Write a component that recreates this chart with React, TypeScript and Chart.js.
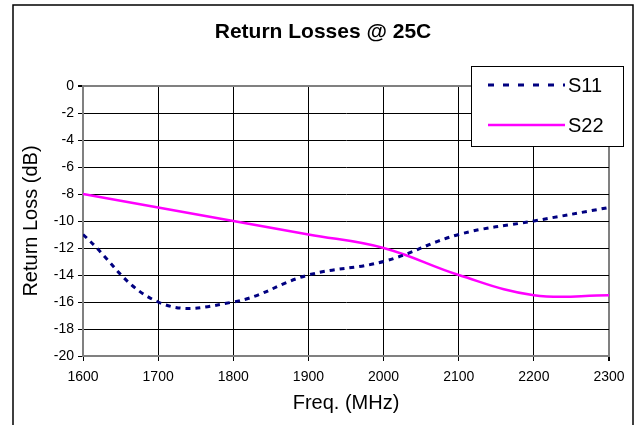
import React, { useEffect, useRef } from 'react';
import { Chart, registerables } from 'chart.js';

Chart.register(...registerables);

const freqMHz = [1600, 1700, 1800, 1900, 2000, 2100, 2200, 2300];
const s11 = [-11, -16, -16, -14, -13, -11, -10, -9];
const s22 = [-8, -9, -10, -11, -12, -14, -15.5, -15.5];
const seriesLabels = ['S11', 'S22'];
const titleText = 'Return Losses @ 25C';
const xTitle = 'Freq. (MHz)';
const yTitle = 'Return Loss (dB)';

const FONT = "'Liberation Sans', Arial, Helvetica, sans-serif";

const framePlugin = {
  id: 'frameAndTitle',
  beforeDraw(chart: any) {
    const ctx = chart.ctx;
    ctx.save();
    ctx.fillStyle = '#fff';
    ctx.fillRect(0, 0, chart.width, chart.height);
    ctx.strokeStyle = '#000';
    ctx.lineWidth = 1.5;
    ctx.strokeRect(13, 5, 620, 440);
    ctx.fillStyle = '#000';
    ctx.font = `bold 21px ${FONT}`;
    ctx.textAlign = 'center';
    ctx.textBaseline = 'middle';
    ctx.fillText(titleText, 323, 32);
    ctx.restore();
  },
};

const legendPlugin = {
  id: 'boxLegend',
  afterDraw(chart: any) {
    const ctx = chart.ctx;
    ctx.save();
    ctx.fillStyle = '#fff';
    ctx.fillRect(471, 66, 152, 80);
    ctx.strokeStyle = '#000';
    ctx.lineWidth = 1;
    ctx.strokeRect(471.5, 66.5, 152, 80);
    chart.data.datasets.forEach((ds: any, i: number) => {
      const y = 85 + i * 40;
      ctx.strokeStyle = ds.borderColor;
      ctx.lineWidth = ds.borderWidth;
      ctx.setLineDash(ds.borderDash && ds.borderDash.length ? [6, 9] : []);
      ctx.beginPath();
      ctx.moveTo(488, y);
      ctx.lineTo(565, y);
      ctx.stroke();
      ctx.setLineDash([]);
      ctx.fillStyle = '#000';
      ctx.font = `20px ${FONT}`;
      ctx.textAlign = 'left';
      ctx.textBaseline = 'middle';
      ctx.fillText(ds.label, 568, y + 1);
    });
    ctx.restore();
  },
};

export default function App() {
  const ref = useRef<HTMLCanvasElement | null>(null);

  useEffect(() => {
    if (!ref.current) return;
    const chart = new Chart(ref.current, {
      type: 'line',
      data: {
        datasets: [
          {
            label: seriesLabels[0],
            data: freqMHz.map((f, i) => ({ x: f, y: s11[i] })),
            borderColor: '#000080',
            borderWidth: 3,
            borderDash: [5, 5],
            tension: 0.4,
            pointRadius: 0,
            fill: false,
          },
          {
            label: seriesLabels[1],
            data: freqMHz.map((f, i) => ({ x: f, y: s22[i] })),
            borderColor: '#ff00ff',
            borderWidth: 2.5,
            tension: 0.4,
            pointRadius: 0,
            fill: false,
          },
        ],
      },
      options: {
        responsive: false,
        animation: false,
        devicePixelRatio: 1,
        layout: { padding: { top: 86, right: 28, left: 0, bottom: 0 } },
        plugins: {
          legend: { display: false },
          title: { display: false },
          tooltip: { enabled: false },
        },
        scales: {
          x: {
            type: 'linear',
            min: 1600,
            max: 2300,
            ticks: {
              stepSize: 100,
              autoSkip: false,
              maxRotation: 0,
              callback: (v: any) => String(v),
              font: { family: FONT, size: 14 },
              color: '#000',
              padding: 8,
            },
            grid: {
              color: (c: any) => (c.tick && c.tick.value === 2300 ? '#808080' : '#000'),
              lineWidth: (c: any) => (c.tick && c.tick.value === 2300 ? 2 : 1),
              tickLength: 5,
              tickColor: '#000',
            },
            border: { color: '#808080', width: 2 },
            title: {
              display: true,
              text: xTitle,
              color: '#000',
              font: { family: FONT, size: 20 },
              padding: { top: 0, bottom: 10 },
            },
            afterFit: (s: any) => {
              s.height = 69;
            },
          },
          y: {
            type: 'linear',
            min: -20,
            max: 0,
            ticks: {
              stepSize: 2,
              callback: (v: any) => String(v),
              font: { family: FONT, size: 14 },
              color: '#000',
              padding: 4,
            },
            grid: {
              color: (c: any) => (c.tick && c.tick.value === 0 ? '#808080' : '#000'),
              lineWidth: (c: any) => (c.tick && c.tick.value === 0 ? 2 : 1),
              tickLength: 5,
              tickColor: '#000',
            },
            border: { color: '#808080', width: 2 },
            title: {
              display: true,
              text: yTitle,
              color: '#000',
              font: { family: FONT, size: 20 },
              padding: { top: 19, bottom: 0 },
            },
            afterFit: (s: any) => {
              s.width = 83;
            },
          },
        },
      } as any,
      plugins: [framePlugin, legendPlugin],
    });
    return () => chart.destroy();
  }, []);

  return (
    <div style={{ position: 'absolute', left: 0, top: 0, width: 637, height: 425 }}>
      <canvas ref={ref} width={637} height={425} style={{ display: 'block' }} />
    </div>
  );
}
